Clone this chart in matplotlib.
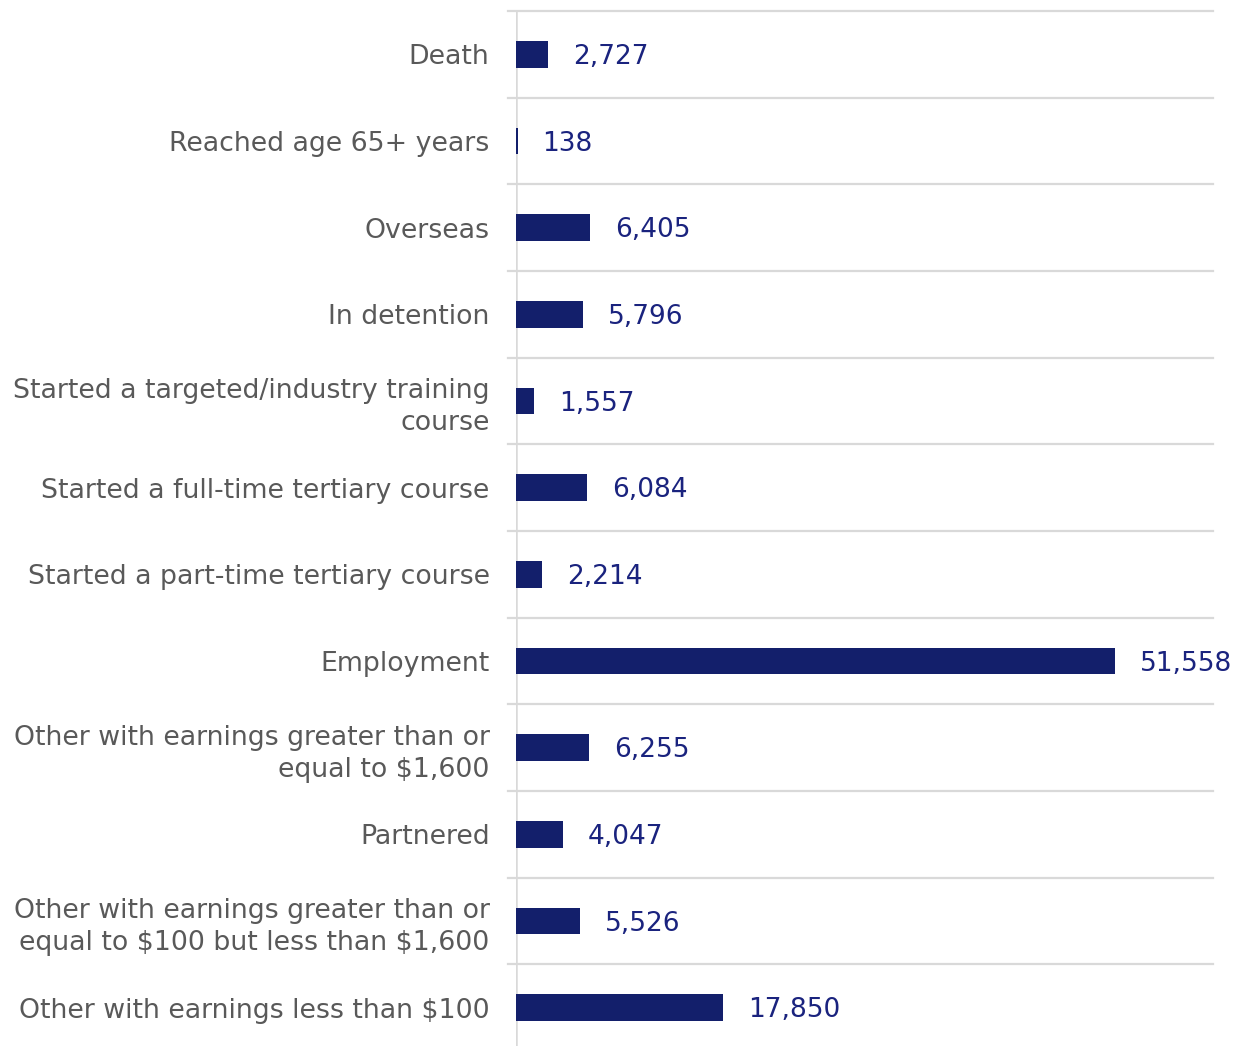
import matplotlib
matplotlib.use("Agg")
import matplotlib.pyplot as plt
import matplotlib.transforms as mtransforms

plt.rcParams['font.family'] = ['DejaVu Sans']

# data, top to bottom as shown
categories = [
    "Death",
    "Reached age 65+ years",
    "Overseas",
    "In detention",
    "Started a targeted/industry training\ncourse",
    "Started a full-time tertiary course",
    "Started a part-time tertiary course",
    "Employment",
    "Other with earnings greater than or\nequal to \\$1,600",
    "Partnered",
    "Other with earnings greater than or\nequal to \\$100 but less than \\$1,600",
    "Other with earnings less than \\$100",
]
counts = [2727, 138, 6405, 5796, 1557, 6084, 2214, 51558, 6255, 4047, 5526, 17850]

bar_color = '#131F6B'
label_color = '#1A237E'
grid_color = '#D9D9D9'

W, H = 1242, 1046
fig = plt.figure(figsize=(W / 100, H / 100), dpi=100)
# axes box in pixels: left 516, right 1213, top 11, bottom ~1051
left, right, top, bottom = 516, 1213, 11, 1051
ax = fig.add_axes([left / W, (H - bottom) / H, (right - left) / W, (bottom - top) / H])

n = len(categories)
ypos = list(range(n))
ax.barh(ypos, counts, height=0.31, color=bar_color)
ax.set_ylim(n - 0.5, -0.5)
ax.set_xlim(0, 60000)

for y, v in zip(ypos, counts):
    ax.annotate(f"{v:,}", (v, y), xytext=(18, -2), textcoords='offset points',
                va='center', ha='left', fontsize=19, color=label_color)

# category separators, extending slightly left of the axis
trans = mtransforms.blended_transform_factory(ax.transAxes, ax.transData)
for b in [i - 0.5 for i in range(n)]:
    ax.plot([-0.0115, 1.0], [b, b], transform=trans, color=grid_color,
            lw=1.6, clip_on=False, zorder=0)

ax.axvline(0, color=grid_color, lw=1.8, zorder=0.5)

ax.set_yticks(ypos)
ax.set_yticklabels(categories, fontsize=19.3, color='#595959', linespacing=1.3)
ax.tick_params(axis='y', length=0, pad=19)
ax.set_xticks([])
for s in ax.spines.values():
    s.set_visible(False)

fig.savefig("out.png", dpi=100)
